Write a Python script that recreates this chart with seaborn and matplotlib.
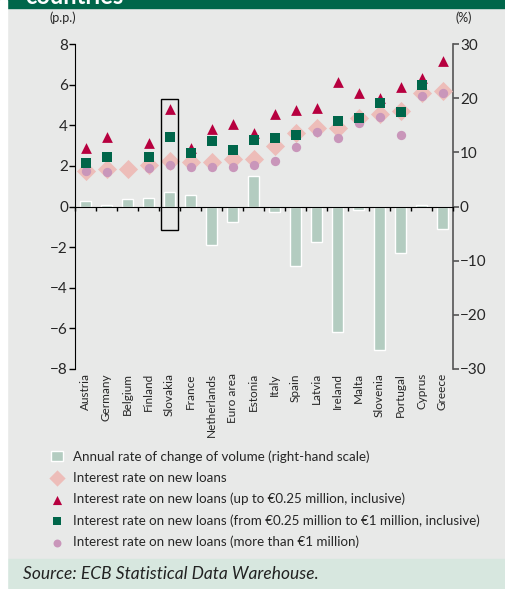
import numpy as np
import pandas as pd
import seaborn as sns
import matplotlib.pyplot as plt
from matplotlib.patches import Rectangle

countries = ['Austria', 'Germany', 'Belgium', 'Finland', 'Slovakia', 'France', 'Netherlands',
             'Euro area', 'Estonia', 'Italy', 'Spain', 'Latvia', 'Ireland', 'Malta', 'Slovenia',
             'Portugal', 'Cyprus', 'Greece']
# annual rate of change of volume (%), right-hand scale
volume = [1.0, 0.3, 1.4, 1.6, 2.7, 2.2, -7.1, -2.9, 5.6, -1.1, -10.9, -6.6, -23.2, -0.6,
          -26.4, -8.5, 0.3, -4.1]
# interest rates (p.p.), left-hand scale
rate_all = [1.76, 1.85, 1.85, 2.06, 2.22, 2.2, 2.2, 2.33, 2.35, 2.97, 3.6, 3.85, 3.85, 4.34,
            4.56, 4.7, 5.57, 5.7]
rate_small = [2.9, 3.4, np.nan, 3.15, 4.82, 2.9, 3.8, 4.08, 3.62, 4.54, 4.75, 4.83, 6.11, 5.59,
              5.34, 5.88, 6.32, 7.16]
rate_medium = [2.15, 2.45, np.nan, 2.45, 3.43, 2.64, 3.22, 2.79, 3.25, 3.38, 3.54, np.nan, 4.21,
               4.38, 5.11, 4.67, 6.0, np.nan]
rate_large = [1.73, 1.68, np.nan, 1.9, 2.02, 1.96, 1.96, 1.96, 2.03, 2.25, 2.95, 3.65, 3.38, 4.1,
              4.39, 3.52, 5.46, 5.59]
highlight = 'Slovakia'

labels = ['Annual rate of change of volume (right-hand scale)',
          'Interest rate on new loans',
          'Interest rate on new loans (up to €0.25 million, inclusive)',
          'Interest rate on new loans (from €0.25 million to €1 million, inclusive)',
          'Interest rate on new loans (more than €1 million)']

BG = '#E8E9E8'
BAR = '#B3CCC0'
PINK = '#EDBDB9'
RED = '#B7003F'
GREEN = '#00664A'
MAUVE = '#C996BA'

sns.set_style('white')
plt.rcParams['font.family'] = ['Lato', 'DejaVu Sans']

df = pd.DataFrame({'country': countries, 'volume': volume, 'all': rate_all,
                   'small': rate_small, 'medium': rate_medium, 'large': rate_large})

W, H = 506, 589
fig = plt.figure(figsize=(W / 100, H / 100), dpi=100, facecolor=BG)
fig.patches.append(Rectangle((0, 1 - 7.5 / H), 1, 7.5 / H, transform=fig.transFigure,
                             color=GREEN, zorder=0))
fig.patches.append(Rectangle((0, 0), 1, 30 / H, transform=fig.transFigure,
                             color='#D7E7DF', zorder=0))
fig.patches.append(Rectangle((0, 0), 7 / W, 1, transform=fig.transFigure,
                             color='white', zorder=1))
fig.text(25 / W, 1 - 4.5 / H, 'countries', color='white', fontsize=17, fontweight='bold',
         va='baseline')

rect = [75 / W, 220 / H, 378 / W, 325 / H]
n = len(countries)

# bars on the right-hand scale
ax = fig.add_axes(rect)
ax.set_facecolor('none')
sns.barplot(data=df, x='country', y='volume', color=BAR, saturation=1, width=0.5,
            label=labels[0], ax=ax)
ax.get_legend().remove()
ax.set_xlim(-0.5, n - 0.5)
ax.set_ylim(-30, 30)
ax.set_yticks([-30, -20, -10, 0, 10, 20, 30])
ax.yaxis.tick_right()
ax.tick_params(axis='y', direction='out', length=4, width=1.2, color='#555555',
               labelsize=11, pad=1, right=True, left=False)
ax.tick_params(axis='x', length=0, labelsize=8.5, pad=3)
plt.setp(ax.get_xticklabels(), rotation=90, va='top', ha='center')
for s in ['top', 'bottom', 'left']:
    ax.spines[s].set_visible(False)
ax.spines['right'].set_color('#555555')
ax.spines['right'].set_linewidth(1.2)
ax.set_xlabel('')
ax.set_ylabel('')

# interest rates on the left-hand scale, separate overlay axes
ax2 = fig.add_axes(rect, label='rates')
ax2.set_facecolor('none')
sns.scatterplot(data=df, x='country', y='all', marker='D', s=95, color=PINK, linewidth=0,
                label=labels[1], ax=ax2, zorder=3)
sns.scatterplot(data=df, x='country', y='large', marker='o', s=45, color=MAUVE, linewidth=0,
                label=labels[4], ax=ax2, zorder=4)
sns.scatterplot(data=df, x='country', y='small', marker='^', s=60, color=RED, linewidth=0,
                label=labels[2], ax=ax2, zorder=5)
sns.scatterplot(data=df, x='country', y='medium', marker='s', s=42, color=GREEN, linewidth=0,
                label=labels[3], ax=ax2, zorder=6)
ax2.get_legend().remove()
ax2.set_ylim(-8, 8)
ax2.set_yticks(range(-8, 9, 2))
ax2.tick_params(axis='y', direction='out', length=4, width=1, color='black',
                labelsize=11, pad=1, left=True, right=False)
ax2.spines['bottom'].set_position(('data', 0))
ax2.set_xticks(np.arange(n + 1) - 0.5)
ax2.tick_params(axis='x', direction='out', length=3, width=1, color='black',
                labelbottom=False, bottom=True)
for s in ['top', 'right']:
    ax2.spines[s].set_visible(False)
ax2.spines['left'].set_color('black')
ax2.spines['bottom'].set_color('black')
ax2.set_xlim(-0.5, n - 0.5)
ax2.set_xlabel('')
ax2.set_ylabel('')

# highlight box around Slovakia
i = countries.index(highlight)
top = rate_small[i] + 0.48
ax2.add_patch(Rectangle((i - 0.4, -1.15), 0.8, top + 1.15, fill=False, edgecolor='black',
                        linewidth=1, zorder=7))

fig.text(63 / W, 1 - 18 / H, '(p.p.)', fontsize=9, ha='center', va='center')
fig.text(464 / W, 1 - 18 / H, '(%)', fontsize=9, ha='center', va='center')

h1, l1 = ax.get_legend_handles_labels()
h2, l2 = ax2.get_legend_handles_labels()
handles = dict(zip(l1 + l2, h1 + h2))
fig.legend([handles[l] for l in labels], labels, loc='upper left',
           bbox_to_anchor=(51 / W, 1 - 450 / H), frameon=False, fontsize=9.6,
           handletextpad=0.75, labelspacing=0.68, handlelength=0.9, borderaxespad=0,
           borderpad=0, markerscale=0.85)

fig.text(23 / W, 15 / H, 'Source: ECB Statistical Data Warehouse.', fontsize=12.5,
         style='italic', va='center', color='#222222')

fig.savefig('out.png', dpi=100, facecolor=BG)
